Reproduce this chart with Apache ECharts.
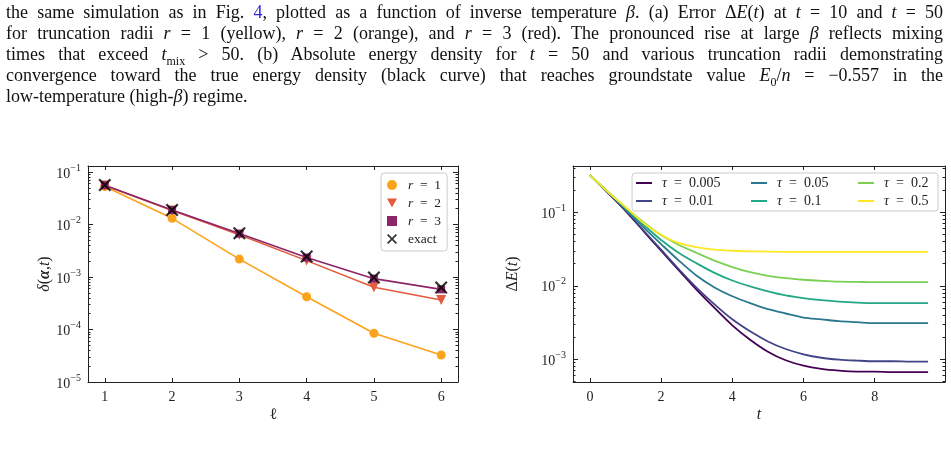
<!DOCTYPE html>
<html>
<head>
<meta charset="utf-8">
<script src="https://cdn.jsdelivr.net/npm/echarts@6/dist/echarts.min.js"></script>
<style>
html, body { margin: 0; padding: 0; background: #fff; }
#main { position: absolute; left: 0; top: 0; width: 951px; height: 469px; }
.cap { position: absolute; left: 6px; width: 937px; font: 18px "Liberation Serif", "DejaVu Serif", serif; line-height: 21px; color: #111; text-align: justify; text-align-last: justify; }
.cap.last { text-align: left; text-align-last: left; }
.cap a { color: #2b2bd6; text-decoration: none; }
.cap sub { font-size: 12px; line-height: 0; }
</style>
</head>
<body>
<div id="main"></div>
<div class="cap" style="top:2px">the same simulation as in Fig. <a>4</a>, plotted as a function of inverse temperature <i>β</i>. (a) Error Δ<i>E</i>(<i>t</i>) at <i>t</i> = 10 and <i>t</i> = 50</div>
<div class="cap" style="top:23px">for truncation radii <i>r</i> = 1 (yellow), <i>r</i> = 2 (orange), and <i>r</i> = 3 (red). The pronounced rise at large <i>β</i> reflects mixing</div>
<div class="cap" style="top:44px">times that exceed <i>t</i><sub>mix</sub> &gt; 50. (b) Absolute energy density for <i>t</i> = 50 and various truncation radii demonstrating</div>
<div class="cap" style="top:65px">convergence toward the true energy density (black curve) that reaches groundstate value <i>E</i><sub>0</sub>/<i>n</i> = −0.557 in the</div>
<div class="cap last" style="top:86px">low-temperature (high-<i>β</i>) regime.</div>
<script>
var fam = '"Liberation Serif", "DejaVu Serif", serif';
var ink = '#222';

// panel (a): delta(alpha, t) against l
var ellValues = [1, 2, 3, 4, 5, 6];
var deltaR1 = [0.053, 0.0131, 0.00219, 4.2e-4, 8.5e-5, 3.27e-5];
var deltaR2 = [0.055, 0.0185, 0.0064, 0.00205, 6.4e-4, 3.65e-4];
var deltaR3 = [0.056, 0.0188, 0.0067, 0.00235, 9.3e-4, 5.8e-4];
var deltaExact = [0.0565, 0.0189, 0.0068, 0.00245, 9.8e-4, 6.3e-4];
var ellTicks = [1, 2, 3, 4, 5, 6];
var leftMajor = [1e-5, 1e-4, 1e-3, 1e-2, 1e-1];

// panel (b): energy error against t
var tValues = [0, 0.5, 1, 1.5, 2, 2.5, 3, 3.5, 4, 4.5, 5, 5.5, 6, 6.5, 7, 7.5, 8, 8.5, 9, 9.5];
var tauNames = ['τ = 0.005', 'τ = 0.01', 'τ = 0.05', 'τ = 0.1', 'τ = 0.2', 'τ = 0.5'];
var tauColors = ['#440154', '#414487', '#2a788e', '#22a884', '#7ad151', '#fde725'];
var dE005 = [0.32, 0.185, 0.105, 0.056, 0.030, 0.0162, 0.0088, 0.0050, 0.0029, 0.00185, 0.00127, 0.00097, 0.00082, 0.00074, 0.00070, 0.00068, 0.00068, 0.00067, 0.00067, 0.00067];
var dE01 = [0.32, 0.186, 0.106, 0.057, 0.031, 0.0168, 0.0094, 0.0056, 0.0035, 0.0024, 0.00175, 0.00138, 0.00117, 0.00105, 0.00099, 0.00096, 0.00094, 0.00094, 0.00093, 0.00093];
var dE05 = [0.32, 0.188, 0.11, 0.063, 0.037, 0.022, 0.0137, 0.0095, 0.0072, 0.0058, 0.0048, 0.0042, 0.0037, 0.0035, 0.0033, 0.0032, 0.0031, 0.0031, 0.0031, 0.0031];
var dE1 = [0.32, 0.19, 0.113, 0.068, 0.042, 0.028, 0.0202, 0.0150, 0.0118, 0.0098, 0.0084, 0.0074, 0.0068, 0.0064, 0.0061, 0.0059, 0.0058, 0.0058, 0.0058, 0.0058];
var dE2 = [0.32, 0.192, 0.117, 0.074, 0.049, 0.036, 0.0280, 0.0220, 0.0180, 0.0153, 0.0137, 0.0127, 0.0121, 0.0117, 0.0114, 0.0113, 0.0112, 0.0112, 0.0112, 0.0112];
var dE5 = [0.32, 0.19, 0.118, 0.072, 0.049, 0.038, 0.0335, 0.031, 0.0300, 0.0295, 0.0292, 0.029, 0.029, 0.029, 0.029, 0.029, 0.029, 0.029, 0.029, 0.029];
var tTicks = [0, 2, 4, 6, 8];
var rightMajor = [1e-3, 1e-2, 1e-1];

function minorTicks(lo, hi) {
    var out = [];
    for (var e = -6; e < 1; e++) {
        for (var m = 2; m <= 9; m++) {
            var v = m * Math.pow(10, e);
            if (v > lo && v < hi) out.push(v);
        }
    }
    return out;
}

function pairs(xs, ys) {
    return xs.map(function (x, i) { return [x, ys[i]]; });
}

var supRich = {
    n: { fontSize: 14, fontFamily: fam, color: ink, lineHeight: 18, verticalAlign: 'bottom' },
    s: { fontSize: 10, fontFamily: fam, color: ink, lineHeight: 6, verticalAlign: 'top' }
};
var nameRich = {
    i: { fontStyle: 'italic', fontSize: 16, fontFamily: fam, color: ink },
    b: { fontStyle: 'italic', fontWeight: 'bold', fontSize: 16, fontFamily: fam, color: ink }
};
var sp = '\u2002';

function xAx(grid, pos, min, max, ticks, labels) {
    return {
        type: 'value', gridIndex: grid, position: pos, min: min, max: max,
        axisLine: { show: true, onZero: false, lineStyle: { color: ink, width: 1 } },
        axisTick: { show: true, inside: true, length: 4, customValues: ticks, lineStyle: { color: ink } },
        axisLabel: { show: labels, customValues: ticks, margin: 8, fontSize: 14, fontFamily: fam, color: ink },
        splitLine: { show: false }
    };
}

function yAx(grid, pos, min, max, ticks, len, labels, line) {
    return {
        type: 'log', logBase: 10, gridIndex: grid, position: pos, min: min, max: max,
        axisLine: { show: line, onZero: false, lineStyle: { color: ink, width: 1 } },
        axisTick: { show: true, inside: true, length: len, customValues: ticks, lineStyle: { color: ink } },
        axisLabel: labels ? {
            show: true, customValues: ticks, margin: 7, rich: supRich,
            formatter: function (v) { return '{n|10}{s|−' + Math.round(-Math.log10(v)) + '}'; }
        } : { show: false },
        splitLine: { show: false }
    };
}

var aMin = 1e-5, aMax = 0.13;
var bMin = 4.91e-4, bMax = 0.427;

var xA = xAx(0, 'bottom', 0.75, 6.25, ellTicks, true);
xA.name = 'ℓ'; xA.nameLocation = 'middle'; xA.nameGap = 25;
xA.nameTextStyle = { fontSize: 16, fontFamily: fam, color: ink };
var xB = xAx(1, 'bottom', -0.475, 9.975, tTicks, true);
xB.name = '{i|t}'; xB.nameLocation = 'middle'; xB.nameGap = 25;
xB.nameTextStyle = { fontSize: 16, fontFamily: fam, color: ink, rich: nameRich };

var yA = yAx(0, 'left', aMin, aMax, leftMajor, 5, true, true);
yA.name = '{i|δ}({b|α},{i|t})'; yA.nameLocation = 'middle'; yA.nameGap = 35;
yA.nameTextStyle = { fontSize: 16, fontFamily: fam, color: ink, rich: nameRich };
var yB = yAx(1, 'left', bMin, bMax, rightMajor, 5, true, true);
yB.name = 'Δ{i|E}({i|t})'; yB.nameLocation = 'middle'; yB.nameGap = 52;
yB.nameTextStyle = { fontSize: 16, fontFamily: fam, color: ink, rich: nameRich };

var triDown = 'path://M0,0 L10,0 L5,9 Z';
var xMark = 'path://M0,1.2 L1.2,0 L5,3.8 L8.8,0 L10,1.2 L6.2,5 L10,8.8 L8.8,10 L5,6.2 L1.2,10 L0,8.8 L3.8,5 Z';
var aColors = ['#fba31b', '#e45b3e', '#8c2668'];

var myChart = echarts.init(document.getElementById('main'));

var series = [
    { name: 'r = 1', type: 'line', xAxisIndex: 0, yAxisIndex: 0, data: pairs(ellValues, deltaR1),
      symbol: 'circle', symbolSize: 9, color: aColors[0],
      itemStyle: { color: aColors[0], borderWidth: 0 }, lineStyle: { color: aColors[0], width: 1.6 } },
    { name: 'r = 2', type: 'line', xAxisIndex: 0, yAxisIndex: 0, data: pairs(ellValues, deltaR2),
      symbol: triDown, symbolSize: 10, color: aColors[1],
      itemStyle: { color: aColors[1], borderWidth: 0 }, lineStyle: { color: aColors[1], width: 1.6 } },
    { name: 'r = 3', type: 'line', xAxisIndex: 0, yAxisIndex: 0, data: pairs(ellValues, deltaR3),
      symbol: 'rect', symbolSize: 8, color: aColors[2],
      itemStyle: { color: aColors[2], borderWidth: 0 }, lineStyle: { color: aColors[2], width: 1.6 } },
    { name: 'exact', type: 'scatter', xAxisIndex: 0, yAxisIndex: 0, data: pairs(ellValues, deltaExact),
      symbol: xMark, symbolSize: 13, color: '#000', itemStyle: { color: '#000' }, z: 5 }
];
var bData = [dE005, dE01, dE05, dE1, dE2, dE5];
for (var k = 0; k < bData.length; k++) {
    series.push({
        name: tauNames[k], type: 'line', xAxisIndex: 2, yAxisIndex: 4,
        data: pairs(tValues, bData[k]), smooth: 0.3, symbol: 'none', showSymbol: false,
        color: tauColors[k], lineStyle: { color: tauColors[k], width: 1.8 }
    });
}

function tauLegend(left, names) {
    return {
        orient: 'vertical', left: left, top: 176, padding: 0, itemGap: 4,
        itemWidth: 16, itemHeight: 2, icon: 'rect',
        data: names,
        formatter: function (n) { return '{i|τ}' + sp + '=' + sp + n.slice(4); },
        textStyle: { fontSize: 14, fontFamily: fam, color: ink, lineHeight: 14, padding: [0, 0, 0, 5],
                     rich: { i: { fontStyle: 'italic', fontSize: 14, lineHeight: 14, fontFamily: fam, color: ink } } }
    };
}

var option = {
    animation: false,
    textStyle: { fontFamily: fam },
    grid: [
        { left: 88, top: 166, width: 370, height: 216 },
        { left: 573, top: 166, width: 372, height: 216 }
    ],
    xAxis: [
        xA,
        xAx(0, 'top', 0.75, 6.25, ellTicks, false),
        xB,
        xAx(1, 'top', -0.475, 9.975, tTicks, false)
    ],
    yAxis: [
        yA,
        yAx(0, 'right', aMin, aMax, leftMajor, 5, false, true),
        yAx(0, 'left', aMin, aMax, minorTicks(aMin, aMax), 2.5, false, false),
        yAx(0, 'right', aMin, aMax, minorTicks(aMin, aMax), 2.5, false, false),
        yB,
        yAx(1, 'right', bMin, bMax, rightMajor, 5, false, true),
        yAx(1, 'left', bMin, bMax, minorTicks(bMin, bMax), 2.5, false, false),
        yAx(1, 'right', bMin, bMax, minorTicks(bMin, bMax), 2.5, false, false)
    ],
    legend: [
        {
            orient: 'vertical', left: 381, top: 173, padding: [5, 6, 5, 6], itemGap: 4,
            itemWidth: 10, itemHeight: 10,
            backgroundColor: '#fff', borderColor: '#cccccc', borderWidth: 1, borderRadius: 3,
            data: [
                { name: 'r = 1', icon: 'circle' },
                { name: 'r = 2', icon: triDown },
                { name: 'r = 3', icon: 'rect' },
                { name: 'exact', icon: xMark }
            ],
            formatter: function (n) { return n === 'exact' ? n : '{i|r}' + sp + '=' + sp + n.slice(4); },
            textStyle: { fontSize: 13.5, fontFamily: fam, color: ink, lineHeight: 10, padding: [0, 0, 0, 6],
                         rich: { i: { fontStyle: 'italic', fontSize: 13.5, lineHeight: 10, fontFamily: fam, color: ink } } }
        },
        tauLegend(636, [tauNames[0], tauNames[1]]),
        tauLegend(751, [tauNames[2], tauNames[3]]),
        tauLegend(858, [tauNames[4], tauNames[5]])
    ],
    graphic: [
        { type: 'rect', z: 3, shape: { x: 632, y: 173, width: 306, height: 38, r: 3 },
          style: { fill: '#fff', stroke: '#cccccc', lineWidth: 1 } }
    ],
    series: series
};

myChart.setOption(option);
</script>
</body>
</html>
